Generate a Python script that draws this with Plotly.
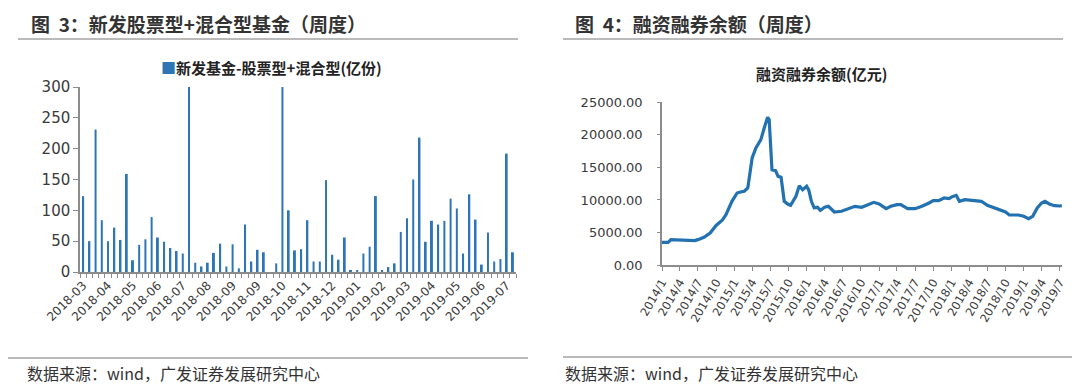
import datetime as dt
import plotly.graph_objects as go

# ---------------- data ----------------
fund_start = "2018-03-18"
fund_values = [123, 50, 231, 84, 50, 72, 52, 159, 19, 44,
               53, 89, 56, 49, 39, 34, 30, 300, 15, 9,
               15, 31, 46, 9, 45, 6, 77, 17, 36, 32,
               0, 14, 300, 100, 35, 37, 84, 17, 17, 149,
               28, 20, 56, 3, 3, 30, 41, 123, 2, 8,
               14, 65, 87, 150, 218, 49, 83, 77, 83, 119,
               103, 30, 126, 85, 12, 64, 17, 21, 192, 32]

margin_dates = ["2014-01-01", "2014-02-01", "2014-02-15", "2014-04-01", "2014-05-15",
                "2014-06-15", "2014-07-01", "2014-08-01", "2014-09-01", "2014-10-01",
                "2014-11-01", "2014-11-20", "2014-12-20", "2015-01-01", "2015-01-15",
                "2015-02-01", "2015-02-20", "2015-03-10", "2015-03-25", "2015-04-01",
                "2015-04-20", "2015-05-15", "2015-06-01", "2015-06-18", "2015-06-26",
                "2015-07-01", "2015-07-10", "2015-07-28", "2015-08-10", "2015-08-25",
                "2015-09-01", "2015-09-10", "2015-10-01", "2015-10-12", "2015-11-08",
                "2015-11-25", "2015-12-12", "2016-01-01", "2016-01-12", "2016-01-25",
                "2016-02-08", "2016-02-25", "2016-03-10", "2016-04-01", "2016-04-20",
                "2016-05-20", "2016-06-25", "2016-08-05", "2016-09-01", "2016-10-05",
                "2016-11-01", "2016-12-05", "2017-01-01", "2017-02-05", "2017-03-01",
                "2017-04-01", "2017-04-20", "2017-05-25", "2017-07-01", "2017-08-05",
                "2017-09-10", "2017-10-01", "2017-10-28", "2017-11-25", "2017-12-20",
                "2018-01-05", "2018-01-25", "2018-02-10", "2018-03-10", "2018-04-01",
                "2018-04-28", "2018-06-01", "2018-07-01", "2018-08-05", "2018-09-10",
                "2018-10-01", "2018-10-20", "2018-12-05", "2019-01-01", "2019-01-25",
                "2019-02-15", "2019-03-10", "2019-04-01", "2019-04-18", "2019-05-10",
                "2019-06-05", "2019-07-01", "2019-07-12"]
margin_values = [3520, 3520, 3930, 3880, 3930,
                 3780, 3930, 4290, 4950, 6100,
                 6890, 7760, 9800, 10300, 11070,
                 11220, 11330, 11840, 14900, 16430,
                 17960, 19230, 21020, 22650, 22300,
                 18980, 14640, 14490, 13620, 13470,
                 11840, 9800, 9290, 9180, 10560,
                 12190, 11580, 12090, 11500, 9800,
                 8800, 8880, 8400, 8880, 9030,
                 8160, 8270, 8780, 9030, 8880,
                 9180, 9640, 9390, 8670, 9030,
                 9290, 9290, 8670, 8670, 9030,
                 9540, 9900, 9900, 10300, 10200,
                 10510, 10710, 9800, 10050, 10000,
                 9900, 9800, 9180, 8780, 8470,
                 8160, 7700, 7700, 7500, 7140,
                 7500, 8780, 9540, 9800, 9390,
                 9130, 9080, 9130]

quarter_ticks = ["2014-01-01", "2014-04-01", "2014-07-01", "2014-10-01",
                 "2015-01-01", "2015-04-01", "2015-07-01", "2015-10-01",
                 "2016-01-01", "2016-04-01", "2016-07-01", "2016-10-01",
                 "2017-01-01", "2017-04-01", "2017-07-01", "2017-10-01",
                 "2018-01-01", "2018-04-01", "2018-07-01", "2018-10-01",
                 "2019-01-01", "2019-04-01", "2019-07-01"]

# ---------------- derived ----------------
d0 = dt.date.fromisoformat(fund_start)
fund_dates = [d0 + dt.timedelta(days=7 * i) for i in range(len(fund_values))]
fund_idx = list(range(len(fund_values)))
label_idx = fund_idx[::4]
label_txt = [fund_dates[i].strftime("%Y-%m") for i in label_idx]
quarter_txt = [f"{int(s[:4])}/{int(s[5:7])}" for s in quarter_ticks]

BLUE = "#2E75B6"
TXT = "#3a3a3a"
AX = "#8c8c8c"
NUM = "DejaVu Sans, Liberation Sans, sans-serif"
CJK = "Noto Sans CJK SC, sans-serif"

W, H = 1080, 384
def px(x): return x / W
def py(y): return 1 - y / H

fig = go.Figure()
fig.add_trace(go.Bar(x=fund_idx, y=fund_values, marker_color=BLUE,
                     marker_line_width=0, name="新发基金-股票型+混合型(亿份)",
                     xaxis="x", yaxis="y", showlegend=False))
fig.add_trace(go.Scatter(x=margin_dates, y=margin_values, mode="lines",
                         line=dict(color="#2271B1", width=3.2),
                         name="融资融券余额(亿元)",
                         xaxis="x2", yaxis="y2", showlegend=False))

fig.update_layout(
    width=W, height=H, margin=dict(l=0, r=0, t=0, b=0, autoexpand=False),
    paper_bgcolor="white", plot_bgcolor="white",
    font=dict(family=NUM, color=TXT, size=12),
    bargap=0.68,
    xaxis=dict(domain=[px(72), px(508)], range=[-0.5, len(fund_values) - 0.5],
               tickmode="array", tickvals=label_idx, ticktext=label_txt,
               tickangle=-45, ticks="", showgrid=False, zeroline=False,
               showline=True, linecolor=AX, linewidth=1.5, automargin=False,
               tickfont=dict(family=NUM, size=12, color=TXT),
               minor=dict(tickmode="array",
                          tickvals=[i - 0.5 for i in range(len(fund_values) + 1)],
                          ticks="outside", ticklen=4, tickcolor=AX, tickwidth=1,
                          showgrid=False),
               anchor="y"),
    yaxis=dict(domain=[py(264), py(79)], range=[0, 300], dtick=50,
               ticks="outside", ticklen=5, tickcolor=AX, showgrid=False,
               zeroline=False, showline=True, linecolor=AX, linewidth=1.5,
               automargin=False,
               tickfont=dict(family=NUM, size=15, color=TXT), anchor="x"),
    xaxis2=dict(domain=[px(654), px(1054)], type="date",
                range=["2014-01-01", "2019-07-13"],
                tickmode="array", tickvals=quarter_ticks, ticktext=quarter_txt,
                tickangle=-60, ticks="outside", ticklen=4, tickcolor=AX,
                showgrid=False, zeroline=False, showline=True, linecolor=AX,
                automargin=False,
                linewidth=1.5, tickfont=dict(family=NUM, size=11.5, color=TXT),
                anchor="y2"),
    yaxis2=dict(domain=[py(257.3), py(94)], range=[0, 25000], dtick=5000,
                tickformat=".2f", ticks="outside", ticklen=3, tickcolor=AX,
                showgrid=False, zeroline=False, showline=True, linecolor=AX,
                automargin=False, ticklabelstandoff=12,
                linewidth=1.5, tickfont=dict(family=NUM, size=13, color=TXT),
                anchor="x2"),
)

shapes = [
    dict(type="line", xref="paper", yref="paper", x0=px(10), x1=px(510),
         y0=py(31), y1=py(31), line=dict(color="#777", width=1.2)),
    dict(type="line", xref="paper", yref="paper", x0=px(555), x1=px(1055),
         y0=py(31), y1=py(31), line=dict(color="#777", width=1.2)),
    dict(type="line", xref="paper", yref="paper", x0=px(0), x1=px(520),
         y0=py(350), y1=py(350), line=dict(color="#777", width=1.2)),
    dict(type="line", xref="paper", yref="paper", x0=px(555), x1=px(1072),
         y0=py(349), y1=py(349), line=dict(color="#777", width=1.2)),
]
fig.update_layout(shapes=shapes)

ann = [
    dict(text="<b>图  3：新发股票型+混合型基金（周度）</b>", x=px(22), y=py(15),
         font=dict(family=CJK, size=19, color="#333")),
    dict(text="<b>图  4：融资融券余额（周度）</b>", x=px(566), y=py(15),
         font=dict(family=CJK, size=19, color="#333")),
    dict(text="<b>融资融券余额(亿元)</b>", x=px(813), y=py(65), xanchor="center",
         font=dict(family=CJK, size=15, color="#222")),
    dict(text=f"<span style='color:{BLUE}'>■</span><b>新发基金-股票型+混合型(亿份)</b>",
         x=px(152), y=py(59),
         font=dict(family=CJK, size=15, color="#222")),
    dict(text="数据来源：wind，广发证券发展研究中心", x=px(18), y=py(365),
         font=dict(family=CJK, size=16, color="#333")),
    dict(text="数据来源：wind，广发证券发展研究中心", x=px(556), y=py(365),
         font=dict(family=CJK, size=16, color="#333")),
]
for a in ann:
    a.setdefault("xanchor", "left")
    a.update(xref="paper", yref="paper", yanchor="middle", showarrow=False,
             borderpad=0)
fig.update_layout(annotations=ann)

fig.write_html("out.html")
